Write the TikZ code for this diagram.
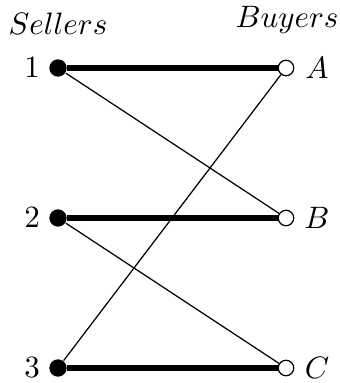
\documentclass[tikz,border=0pt]{standalone}
\begin{document}
\begin{tikzpicture}[x=0.3226pt,y=-0.3226pt,
  seller/.style={circle,fill,inner sep=0pt,minimum size=5.6pt},
  buyer/.style={circle,draw,fill=white,inner sep=0pt,minimum size=5pt,line width=0.4pt},
  match/.style={line width=2pt},
  edge/.style={line width=0.4pt}]
\useasboundingbox (0,0) rectangle (339,383);
\node[seller] (s1) at (58,68) {};
\node[seller] (s2) at (58,218) {};
\node[seller] (s3) at (58,368) {};
\node[buyer] (bA) at (286,68) {};
\node[buyer] (bB) at (286,218) {};
\node[buyer] (bC) at (286,368) {};
\node (l1) at (32,68) {$1$};
\node (l2) at (32,218) {$2$};
\node (l3) at (32,368) {$3$};
\node (lA) at (317,68) {$A$};
\node (lB) at (317,218) {$B$};
\node (lC) at (317,368) {$C$};
\node[anchor=base] (hs) at (58,35) {$Sellers$};
\node[anchor=base] (hb) at (287,28) {$Buyers$};
\draw[match] (s1) -- (bA);
\draw[match] (s2) -- (bB);
\draw[match] (s3) -- (bC);
\draw[edge] (s1) -- (bB);
\draw[edge] (s2) -- (bC);
\draw[edge] (s3) -- (bA);
\end{tikzpicture}
\end{document}
